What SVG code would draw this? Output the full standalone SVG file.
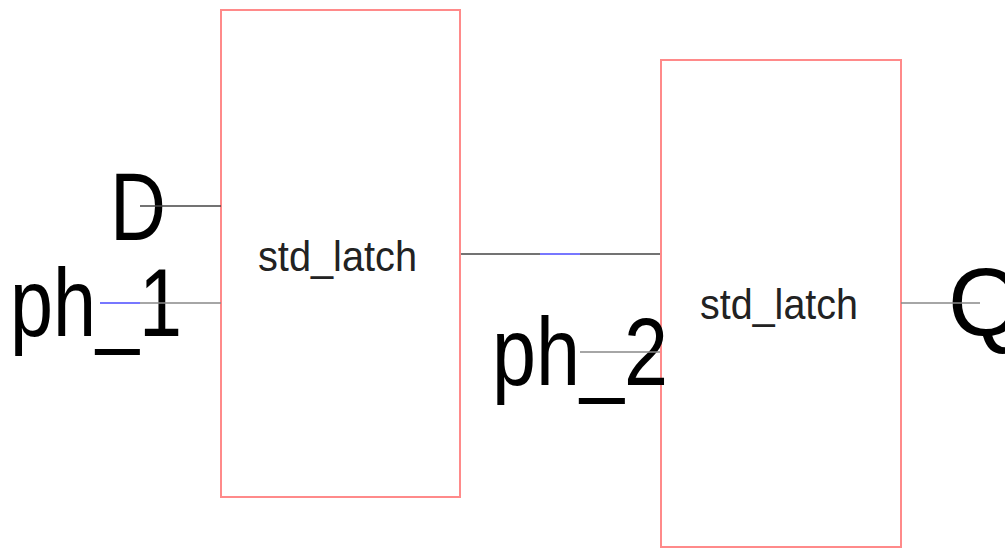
<svg xmlns="http://www.w3.org/2000/svg" width="1005" height="550" viewBox="0 0 1005 550">
  <style>
    .box { fill: #ffffff; stroke: #ff8a8a; stroke-width: 2; }
    .wire { stroke: #444444; stroke-width: 1.5; fill: none; }
    .wire-thin { stroke: #888888; stroke-width: 1.3; fill: none; }
    .net { stroke: #4a4aff; stroke-width: 1.5; fill: none; }
    .pin { font-family: "Liberation Sans", Arial, sans-serif; font-size: 96px; fill: #000000; }
    .cell { font-family: "Liberation Sans", Arial, sans-serif; font-size: 42px; fill: #222222; }
  </style>
  <rect width="1005" height="550" fill="#ffffff"/>

  <g id="latch1">
    <rect class="box" x="221" y="10" width="239" height="487"/>
    <text class="cell" x="258" y="271" textLength="159" lengthAdjust="spacingAndGlyphs">std_latch</text>
  </g>

  <g id="latch2">
    <rect class="box" x="661" y="60" width="240" height="487"/>
    <text class="cell" x="700" y="319" textLength="158" lengthAdjust="spacingAndGlyphs">std_latch</text>
  </g>

  <g id="port-D">
    <text class="pin" x="110" y="240" textLength="56" lengthAdjust="spacingAndGlyphs">D</text>
  </g>
  <g id="port-ph_1">
    <text class="pin" x="10" y="336" textLength="172" lengthAdjust="spacingAndGlyphs">ph_1</text>
  </g>
  <g id="port-ph_2">
    <text class="pin" x="492" y="385" textLength="176" lengthAdjust="spacingAndGlyphs">ph_2</text>
  </g>
  <g id="port-Q">
    <text class="pin" x="948" y="336" textLength="76" lengthAdjust="spacingAndGlyphs">Q</text>
  </g>

  <g id="connectors">
    <line class="wire" x1="140" y1="206" x2="221" y2="206"/>
    <line class="net" x1="100" y1="303" x2="140" y2="303"/>
    <line class="wire-thin" x1="140" y1="303" x2="221" y2="303"/>
    <line class="wire" x1="461" y1="254" x2="540" y2="254"/>
    <line class="net" x1="540" y1="254" x2="580" y2="254"/>
    <line class="wire" x1="580" y1="254" x2="660" y2="254"/>
    <line class="wire-thin" x1="580" y1="352" x2="660" y2="352"/>
    <line class="wire-thin" x1="901" y1="303" x2="980" y2="303"/>
  </g>
</svg>
